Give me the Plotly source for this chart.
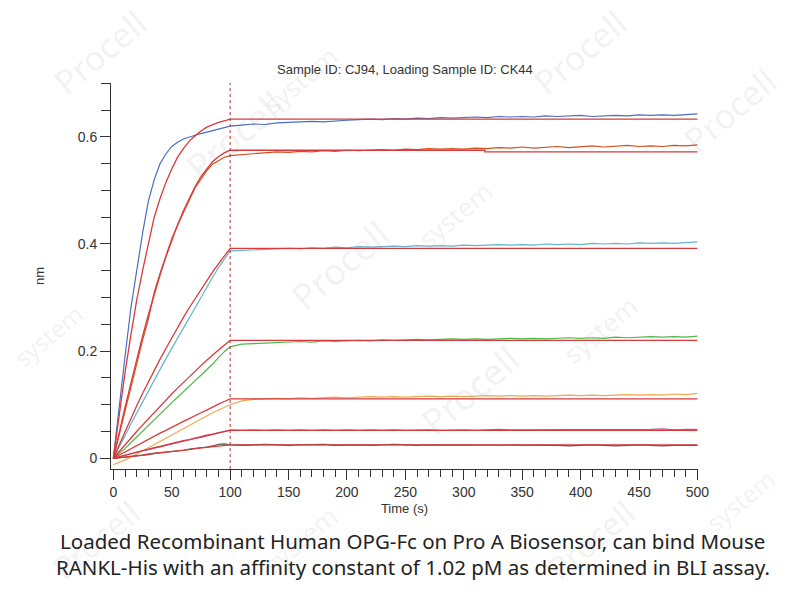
import plotly.graph_objects as go

# ---------------- data ----------------
t_assoc = [0, 5, 10, 15, 20, 25, 30, 35, 40, 45, 50, 55, 60, 65, 70, 75, 80, 85, 90, 95, 100]
t_dissoc = [100, 110, 120, 130, 140, 150, 160, 170, 180, 190, 200, 210, 220, 230, 240, 250, 260, 270, 280, 290, 300,
            310, 320, 330, 340, 350, 360, 370, 380, 390, 400, 410, 420, 430, 440, 450, 460, 470, 480, 490, 500]
t_fit_end = [100, 500]

s1_assoc = [0.0, 0.10, 0.19, 0.28, 0.35, 0.42, 0.48, 0.52, 0.55, 0.568, 0.582, 0.59, 0.596, 0.60, 0.603, 0.606, 0.609, 0.611, 0.614, 0.617, 0.62]
s1_dissoc = [0.620, 0.622, 0.624, 0.623, 0.626, 0.627, 0.628, 0.629, 0.628, 0.630, 0.631, 0.632, 0.633, 0.632, 0.634, 0.633, 0.635, 0.634, 0.636, 0.635, 0.636,
             0.637, 0.636, 0.638, 0.637, 0.638, 0.637, 0.639, 0.638, 0.639, 0.640, 0.638, 0.639, 0.640, 0.639, 0.641, 0.640, 0.641, 0.640, 0.641, 0.643]
s1_fit = [0.0, 0.085, 0.16, 0.23, 0.295, 0.35, 0.40, 0.45, 0.485, 0.515, 0.54, 0.562, 0.578, 0.592, 0.602, 0.611, 0.618, 0.623, 0.627, 0.630, 0.633]
s1_fit_end = [0.633, 0.633]

s2_assoc = [0.0, 0.045, 0.09, 0.135, 0.18, 0.22, 0.26, 0.31, 0.345, 0.378, 0.41, 0.435, 0.46, 0.482, 0.505, 0.522, 0.537, 0.549, 0.556, 0.562, 0.565]
s2_dissoc = [0.565, 0.567, 0.568, 0.570, 0.572, 0.571, 0.573, 0.572, 0.574, 0.573, 0.575, 0.574, 0.575, 0.576, 0.575, 0.577, 0.576, 0.578, 0.577, 0.578, 0.577,
             0.579, 0.578, 0.580, 0.579, 0.581, 0.579, 0.580, 0.582, 0.580, 0.581, 0.583, 0.581, 0.582, 0.584, 0.582, 0.583, 0.582, 0.584, 0.583, 0.585]
s2_fit = [0.0, 0.05, 0.095, 0.14, 0.185, 0.228, 0.268, 0.306, 0.342, 0.376, 0.408, 0.436, 0.462, 0.486, 0.507, 0.526, 0.541, 0.554, 0.563, 0.570, 0.575]
s2_fit_t_end = [100, 318, 318, 500]
s2_fit_end = [0.575, 0.575, 0.572, 0.572]

s3_assoc = [0.0, 0.02, 0.042, 0.064, 0.085, 0.106, 0.126, 0.146, 0.166, 0.186, 0.205, 0.225, 0.245, 0.264, 0.283, 0.302, 0.32, 0.338, 0.356, 0.372, 0.387]
s3_dissoc = [0.387, 0.388, 0.389, 0.390, 0.391, 0.392, 0.391, 0.393, 0.392, 0.394, 0.393, 0.395, 0.394, 0.395, 0.396, 0.395, 0.397, 0.396, 0.397, 0.396, 0.398,
             0.397, 0.398, 0.399, 0.398, 0.399, 0.398, 0.400, 0.399, 0.400, 0.399, 0.401, 0.400, 0.401, 0.400, 0.402, 0.401, 0.402, 0.401, 0.403, 0.404]
s3_fit = [0.0, 0.025, 0.05, 0.074, 0.098, 0.121, 0.143, 0.164, 0.185, 0.205, 0.225, 0.244, 0.263, 0.281, 0.298, 0.315, 0.332, 0.348, 0.363, 0.378, 0.392]
s3_fit_end = [0.392, 0.392]

s4_assoc = [0.0, 0.009, 0.018, 0.029, 0.04, 0.051, 0.062, 0.072, 0.083, 0.094, 0.104, 0.114, 0.125, 0.135, 0.145, 0.155, 0.165, 0.176, 0.188, 0.199, 0.208]
s4_dissoc = [0.210, 0.213, 0.214, 0.215, 0.216, 0.217, 0.218, 0.217, 0.219, 0.218, 0.219, 0.220, 0.219, 0.221, 0.220, 0.221, 0.222, 0.221, 0.222, 0.223, 0.222,
             0.223, 0.222, 0.223, 0.224, 0.223, 0.224, 0.223, 0.224, 0.225, 0.224, 0.225, 0.224, 0.226, 0.225, 0.226, 0.227, 0.226, 0.227, 0.226, 0.228]
s4_fit = [0.0, 0.013, 0.025, 0.038, 0.05, 0.062, 0.074, 0.086, 0.097, 0.109, 0.12, 0.131, 0.142, 0.152, 0.163, 0.173, 0.183, 0.193, 0.202, 0.211, 0.22]
s4_fit_end = [0.22, 0.22]

s5_assoc = [-0.012, -0.008, -0.003, 0.002, 0.008, 0.014, 0.02, 0.026, 0.032, 0.038, 0.044, 0.05, 0.056, 0.062, 0.068, 0.074, 0.08, 0.085, 0.09, 0.095, 0.10]
s5_dissoc = [0.100, 0.107, 0.110, 0.111, 0.112, 0.111, 0.113, 0.112, 0.113, 0.114, 0.113, 0.114, 0.115, 0.114, 0.115, 0.114, 0.115, 0.116, 0.115, 0.116, 0.115,
             0.116, 0.117, 0.116, 0.117, 0.116, 0.117, 0.116, 0.117, 0.118, 0.117, 0.118, 0.117, 0.118, 0.119, 0.118, 0.119, 0.118, 0.120, 0.119, 0.121]
s5_fit = [0.0, 0.006, 0.012, 0.018, 0.024, 0.03, 0.036, 0.041, 0.047, 0.052, 0.058, 0.064, 0.069, 0.074, 0.08, 0.085, 0.09, 0.096, 0.101, 0.106, 0.111]
s5_fit_end = [0.111, 0.111]

s6_assoc = [0.0, 0.003, 0.005, 0.008, 0.011, 0.014, 0.016, 0.019, 0.021, 0.024, 0.027, 0.029, 0.032, 0.034, 0.037, 0.039, 0.042, 0.045, 0.048, 0.051, 0.053]
s6_dissoc = [0.053, 0.052, 0.053, 0.052, 0.053, 0.052, 0.053, 0.052, 0.053, 0.052, 0.053, 0.052, 0.053, 0.052, 0.053, 0.052, 0.053, 0.053, 0.052, 0.053, 0.053,
             0.052, 0.053, 0.054, 0.053, 0.053, 0.054, 0.053, 0.053, 0.054, 0.053, 0.054, 0.053, 0.053, 0.054, 0.053, 0.054, 0.055, 0.053, 0.054, 0.054]
s6_fit = [0.0, 0.003, 0.006, 0.009, 0.012, 0.014, 0.017, 0.02, 0.022, 0.025, 0.028, 0.03, 0.033, 0.035, 0.038, 0.04, 0.043, 0.045, 0.047, 0.05, 0.052]
s6_fit_end = [0.052, 0.052]

s7_assoc = [0.0, 0.001, 0.002, 0.004, 0.005, 0.006, 0.007, 0.009, 0.010, 0.011, 0.012, 0.014, 0.015, 0.017, 0.018, 0.019, 0.021, 0.023, 0.026, 0.027, 0.025]
s7_dissoc = [0.025, 0.024, 0.025, 0.026, 0.025, 0.024, 0.025, 0.025, 0.026, 0.024, 0.025, 0.025, 0.024, 0.025, 0.026, 0.025, 0.024, 0.025, 0.025, 0.024, 0.025,
             0.025, 0.024, 0.025, 0.024, 0.025, 0.024, 0.025, 0.024, 0.023, 0.024, 0.025, 0.024, 0.023, 0.024, 0.025, 0.024, 0.023, 0.024, 0.024, 0.024]
s7_fit = [0.0, 0.001, 0.003, 0.004, 0.005, 0.006, 0.008, 0.009, 0.010, 0.011, 0.013, 0.014, 0.015, 0.016, 0.018, 0.019, 0.020, 0.021, 0.023, 0.024, 0.025]
s7_fit_end = [0.025, 0.025]

data_colors = ["#4a6fc0", "#d2501e", "#62b4cf", "#4fb748", "#f0a850", "#c9509e", "#555555"]
fit_color = "#d83a3c"

title_text = "Sample ID: CJ94, Loading Sample ID: CK44"
x_title = "Time (s)"
y_title = "nm"
caption_1 = "Loaded Recombinant Human OPG-Fc on Pro A Biosensor, can bind Mouse"
caption_2 = "RANKL-His with an affinity constant of 1.02 pM as determined in BLI assay."

# ---------------- figure ----------------
fig = go.Figure()

series = [
    (s1_assoc, s1_dissoc, s1_fit, t_fit_end, s1_fit_end),
    (s2_assoc, s2_dissoc, s2_fit, s2_fit_t_end, s2_fit_end),
    (s3_assoc, s3_dissoc, s3_fit, t_fit_end, s3_fit_end),
    (s4_assoc, s4_dissoc, s4_fit, t_fit_end, s4_fit_end),
    (s5_assoc, s5_dissoc, s5_fit, t_fit_end, s5_fit_end),
    (s6_assoc, s6_dissoc, s6_fit, t_fit_end, s6_fit_end),
    (s7_assoc, s7_dissoc, s7_fit, t_fit_end, s7_fit_end),
]

for (a, d, f, tfe, fe), c in zip(series, data_colors):
    fig.add_trace(go.Scatter(x=t_assoc + t_dissoc[1:], y=a + d[1:], mode="lines",
                             line=dict(color=c, width=1.2), showlegend=False, hoverinfo="skip"))
for (a, d, f, tfe, fe), c in zip(series, data_colors):
    fig.add_trace(go.Scatter(x=t_assoc + tfe[1:], y=f + fe[1:], mode="lines",
                             line=dict(color=fit_color, width=1.3), showlegend=False, hoverinfo="skip"))

fig.add_shape(type="line", xref="x", yref="paper", x0=100, x1=100, y0=0, y1=1,
              line=dict(color="#b03434", width=1, dash="dot"))

axis_font = dict(family="Arial, Liberation Sans, sans-serif", size=14, color="#333333")
title_font = dict(family="Arial, Liberation Sans, sans-serif", size=13, color="#333333")

fig.update_xaxes(range=[-2, 500.5], showline=True, linecolor="#333333", linewidth=1,
                 ticks="outside", ticklen=10, tickwidth=1, tickcolor="#333333",
                 tick0=0, dtick=50, showgrid=False, zeroline=False, tickfont=axis_font,
                 minor=dict(ticks="outside", ticklen=7, tickwidth=1, tickcolor="#333333", dtick=10, showgrid=False),
                 title=dict(text=x_title, font=title_font, standoff=5))
fig.update_yaxes(range=[-0.02, 0.7005], showline=True, linecolor="#333333", linewidth=1,
                 ticks="outside", ticklen=10, tickwidth=1, tickcolor="#333333",
                 showgrid=False, zeroline=False, tickfont=axis_font,
                 tickvals=[0, 0.2, 0.4, 0.6], ticktext=["0", "0.2", "0.4", "0.6"],
                 minor=dict(ticks="outside", ticklen=9, tickwidth=1, tickcolor="#333333", dtick=0.05, showgrid=False),
                 title=dict(text=y_title, font=title_font, standoff=30))

fig.update_layout(
    width=804, height=600,
    margin=dict(l=111, r=106, t=83, b=131),
    paper_bgcolor="white", plot_bgcolor="white",
    showlegend=False,
)

def px_y(y):
    return (600 - 131 - y) / (600 - 83 - 131)

def px_x(x):
    return (x - 111) / (804 - 111 - 106)

fig.add_annotation(text=title_text, x=px_x(405), y=px_y(69), xref="paper", yref="paper",
                   showarrow=False, xanchor="center", yanchor="middle",
                   font=dict(family="Arial, Liberation Sans, sans-serif", size=13, color="#333333"))
fig.add_annotation(text=caption_1, x=px_x(412), y=px_y(541), xref="paper", yref="paper",
                   showarrow=False, xanchor="center", yanchor="middle",
                   font=dict(family="Noto Sans, Open Sans, sans-serif", size=20.5, color="#222222"))
fig.add_annotation(text=caption_2, x=px_x(413), y=px_y(567), xref="paper", yref="paper",
                   showarrow=False, xanchor="center", yanchor="middle",
                   font=dict(family="Noto Sans, Open Sans, sans-serif", size=20.5, color="#222222"))

# faint watermarks
wm = [("Procell", 100, 52, 34), ("Procell", 235, 135, 36), ("system", 300, 80, 26),
      ("Procell", 340, 265, 36), ("system", 455, 215, 26), ("Procell", 580, 52, 34),
      ("Procell", 730, 110, 34), ("Procell", 470, 390, 36), ("system", 600, 330, 26),
      ("system", 48, 335, 24), ("Procell", 95, 540, 32), ("system", 300, 540, 26),
      ("Procell", 590, 540, 32), ("system", 740, 500, 24)]
for txt, x, y, s in wm:
    fig.add_annotation(text=txt, x=px_x(x), y=px_y(y), xref="paper", yref="paper",
                       showarrow=False, textangle=-40, xanchor="center", yanchor="middle",
                       font=dict(family="Noto Sans, sans-serif", size=s, color="rgba(120,120,120,0.10)"))

fig.write_html("out.html")
